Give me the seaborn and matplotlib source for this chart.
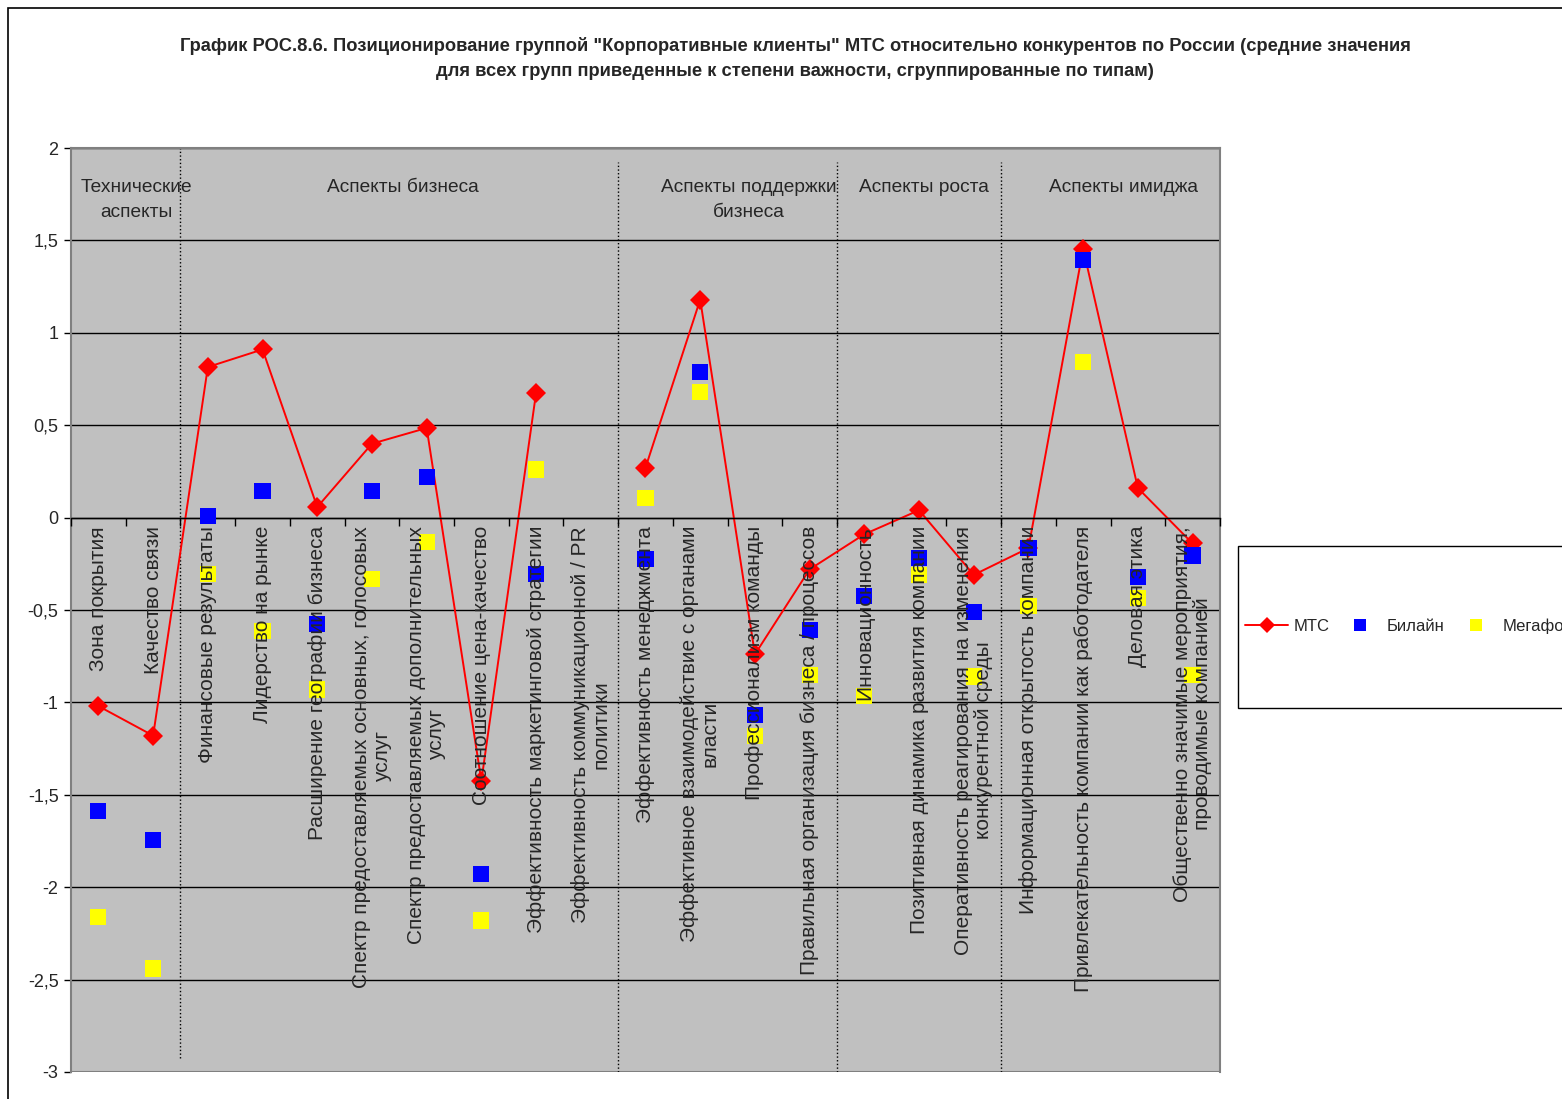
import numpy as np
import pandas as pd
import matplotlib
matplotlib.use('Agg')
import matplotlib.pyplot as plt
from matplotlib.lines import Line2D
from matplotlib.patches import Rectangle
from matplotlib.ticker import FuncFormatter
import seaborn as sns

# Data
categories = [
    'Зона покрытия',
    'Качество связи',
    'Финансовые результаты',
    'Лидерство на рынке',
    'Расширение географии бизнеса',
    'Спектр предоставляемых основных, голосовых\nуслуг',
    'Спектр предоставляемых дополнительных\nуслуг',
    'Соотношение цена-качество',
    'Эффективность маркетинговой стратегии',
    'Эффективность коммуникационной / PR\nполитики',
    'Эффективность менеджмента',
    'Эффективное взаимодействие с органами\nвласти',
    'Профессионализм команды',
    'Правильная организация бизнеса / процессов',
    'Инновационность',
    'Позитивная динамика развития компании',
    'Оперативность реагирования на изменения\nконкурентной среды',
    'Информационная открытость компании',
    'Привлекательность компании как работодателя',
    'Деловая этика',
    'Общественно значимые мероприятия,\nпроводимые компанией',
]
mts = [-1.02, -1.18, 0.815, 0.91, 0.057, 0.40, 0.485, -1.425, 0.675, np.nan,
       0.27, 1.18, -0.74, -0.28, -0.09, 0.04, -0.31, -0.165, 1.455, 0.16, -0.14]
beeline = [-1.59, -1.745, 0.01, 0.145, -0.575, 0.145, 0.22, -1.93, -0.305, np.nan,
           -0.225, 0.79, -1.07, -0.61, -0.425, -0.22, -0.51, -0.165, 1.395, -0.32, -0.205]
megafon = [-2.16, -2.44, -0.305, -0.615, -0.93, -0.33, -0.13, -2.18, 0.26, np.nan,
           0.105, 0.68, -1.18, -0.85, -0.965, -0.31, -0.86, -0.48, 0.84, -0.435, -0.85]

groups = ['Технические\nаспекты', 'Аспекты бизнеса', 'Аспекты поддержки\nбизнеса',
          'Аспекты роста', 'Аспекты имиджа']
group_label_x = [0.7, 5.57, 11.88, 15.09, 18.73]
group_breaks = [1.5, 9.5, 13.5, 16.5]

title = ('График РОС.8.6. Позиционирование группой "Корпоративные клиенты" МТС относительно '
         'конкурентов по России (средние значения\nдля всех групп приведенные к степени '
         'важности, сгруппированные по типам)')

sns.set_style('ticks')
plt.rcParams['font.family'] = ['Liberation Sans', 'DejaVu Sans']

idx = np.arange(len(categories))
mts_df = pd.DataFrame({'x': idx, 'y': mts})
mts_df['seg'] = mts_df['y'].isna().cumsum()
mts_df = mts_df.dropna()

others = pd.concat([
    pd.DataFrame({'x': idx, 'value': beeline, 'operator': 'Билайн'}),
    pd.DataFrame({'x': idx, 'value': megafon, 'operator': 'Мегафон'}),
]).dropna()

fig = plt.figure(figsize=(15.62, 10.99), dpi=100)
ax = fig.add_axes([0.0455, 0.0246, 0.7355, 0.8407])
ax.set_facecolor('#C0C0C0')

sns.lineplot(data=mts_df, x='x', y='y', units='seg', estimator=None, sort=False,
             color='#FF0000', linewidth=1.4, marker='D', markersize=10,
             markeredgewidth=0, legend=False, ax=ax, zorder=2)
sns.scatterplot(data=others, x='x', y='value', hue='operator',
                palette={'Билайн': '#0000FF', 'Мегафон': '#FFFF00'},
                marker='s', s=135, linewidth=0, legend=False, ax=ax, zorder=3)

ax.set_xlim(-0.5, len(categories) - 0.5)
ax.set_ylim(-3, 2)
ax.set_xlabel('')
ax.set_ylabel('')

# y axis
ax.set_yticks(np.arange(-3, 2.01, 0.5))
ax.yaxis.set_major_formatter(FuncFormatter(lambda v, p: ('%g' % v).replace('.', ',')))
ax.yaxis.grid(True, color='black', linewidth=1)
ax.yaxis.set_zorder(0.5)
ax.tick_params(axis='y', length=5, width=1, color='black', labelsize=13, pad=4)

# category axis sits on y = 0
ax.spines['bottom'].set_position(('data', 0))
ax.spines['bottom'].set_color('black')
ax.spines['bottom'].set_linewidth(1)
for s in ['left', 'right', 'top']:
    ax.spines[s].set_color('#808080')
    ax.spines[s].set_linewidth(1.5)
ax.axhline(-3, color='#808080', linewidth=1.5, zorder=0.6)
ax.set_xticks(idx)
ax.set_xticklabels(categories, rotation=90, ha='center', va='top',
                   multialignment='center', fontsize=15, linespacing=1.1)
ax.set_xticks(np.arange(-0.5, len(categories)), minor=True)
ax.tick_params(axis='x', which='major', length=0, pad=6)
ax.tick_params(axis='x', which='minor', length=6, width=1, color='black', direction='out')
ax.xaxis.set_zorder(5)

# group separators and names
ax.axvline(group_breaks[0], ymin=0.015, ymax=1.0, color='black', linestyle=':', linewidth=1, zorder=1)
for b in group_breaks[1:]:
    ax.axvline(b, ymin=0.0, ymax=0.985, color='black', linestyle=':', linewidth=1, zorder=1)
for g, gx in zip(groups, group_label_x):
    ax.text(gx, 1.83, g, ha='center', va='top', fontsize=13.8, linespacing=1.55, zorder=5)

fig.text(0.509, 1 - 37 / 1099, title, ha='center', va='top', fontsize=13.2,
         fontweight='bold', linespacing=1.6)

# legend box
fig.patches.append(Rectangle((1238 / 1562, 1 - 708 / 1099), 0.3, 162 / 1099,
                             transform=fig.transFigure, facecolor='white',
                             edgecolor='black', linewidth=1))
handles = [
    Line2D([], [], color='#FF0000', linewidth=1.4, marker='D', markersize=8, markeredgewidth=0),
    Line2D([], [], color='#0000FF', linestyle='none', marker='s', markersize=8, markeredgewidth=0),
    Line2D([], [], color='#FFFF00', linestyle='none', marker='s', markersize=8, markeredgewidth=0),
]
fig.legend(handles, ['МТС', 'Билайн', 'Мегафон'], loc='center left',
           bbox_to_anchor=(1230 / 1562, 1 - 626 / 1099), ncol=3, frameon=False,
           fontsize=12, handlelength=2.6, handletextpad=0.3, columnspacing=0.55)

# outer chart frame
fig.patches.append(Rectangle((8 / 1562, -0.1), 1.2, 1.1 - 8 / 1099,
                             transform=fig.transFigure, facecolor='none',
                             edgecolor='black', linewidth=1.2))

fig.savefig('out.png', dpi=100)
